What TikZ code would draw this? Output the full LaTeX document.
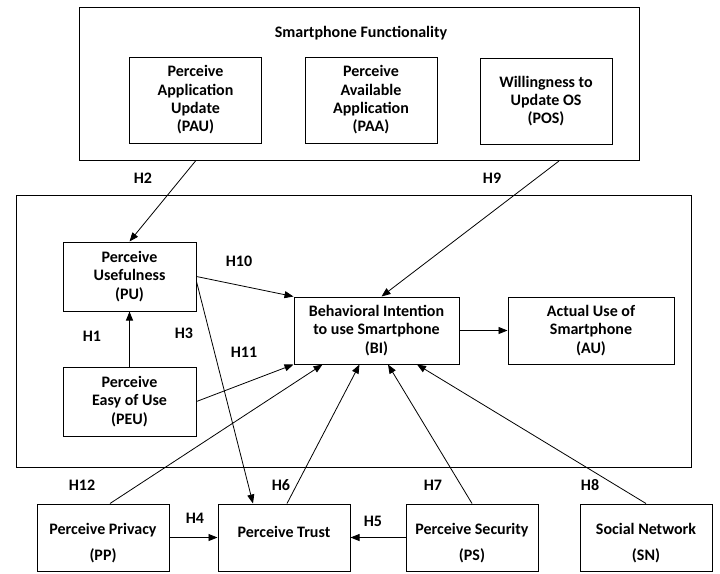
\documentclass[tikz,border=0pt]{standalone}
\usepackage{fontspec}
\setmainfont{Carlito}
\usetikzlibrary{positioning,calc,arrows.meta}
\tikzset{font=\fontsize{16}{18.3}\selectfont\bfseries}

\begin{document}
\begin{tikzpicture}
	\begin{scope}[x=1pt, y=-1pt]
		\tikzstyle{every node}=[align=center, inner sep=1pt]
		\tikzstyle{box}=[draw, line width=1pt, minimum width=132pt]
		\tikzstyle{link}=[line width=0.8pt, -{Triangle[length=9pt, width=7pt]}]
		\useasboundingbox (0, 0) rectangle (720, 573);

		\node [box, minimum width=560pt, minimum height=153pt] (sf) at (359, 84) {};
		\node (sftitle) at (361, 33) {Smartphone Functionality};
		\node [box, minimum height=86pt] (pau) at (195.5, 100) {Perceive\\Application\\Update\\(PAU)};
		\node [box, minimum height=86pt] (paa) at (371, 100) {Perceive\\Available\\Application\\(PAA)};
		\node [box, minimum height=86pt] (pos) at (546, 101) {Willingness to\\Update OS\\(POS)};

		\node [box, minimum width=675pt, minimum height=272pt] (core) at (353.5, 331) {};
		\node [box, minimum width=133pt, minimum height=69pt] (pu) at (129.5, 276.5) {Perceive\\Usefulness\\(PU)};
		\node [box, minimum width=133pt, minimum height=69pt] (peu) at (129.5, 401.5) {Perceive\\Easy of Use\\(PEU)};
		\node [box, minimum width=165pt, minimum height=67pt] (bi) at (376.5, 330.5) {Behavioral Intention\\to use Smartphone\\(BI)};
		\node [box, minimum width=166pt, minimum height=67pt] (au) at (591, 330.5) {Actual Use of\\Smartphone\\(AU)};

		\node [box, minimum height=67pt] (pp) at (103, 537.5) {\rule{0pt}{23pt}Perceive Privacy\\[7.7pt](PP)};
		\node [box, minimum height=67pt] (pt) at (284, 537.5) {\rule[-11pt]{0pt}{1pt}Perceive Trust};
		\node [box, minimum height=67pt] (ps) at (472, 537.5) {\rule{0pt}{23pt}Perceive Security\\[7.7pt](PS)};
		\node [box, minimum height=67pt] (sn) at (646, 537.5) {\rule{0pt}{23pt}Social Network\\[7.7pt](SN)};

		\node (h1) at (92, 336) {H1};
		\node (h2) at (143, 178) {H2};
		\node (h3) at (184, 333) {H3};
		\node (h4) at (195, 518) {H4};
		\node (h5) at (373, 521) {H5};
		\node (h6) at (281, 485) {H6};
		\node (h7) at (433, 485) {H7};
		\node (h8) at (590, 485) {H8};
		\node (h9) at (492, 178) {H9};
		\node (h10) at (239, 261) {H10};
		\node (h11) at (244, 352) {H11};
		\node (h12) at (82, 485) {H12};

		\draw [link] (pau.south |- sf.south) to (pu.north);
		\draw [link] ([xshift=200pt]sf.south) to ([xshift=5pt]bi.north);
		\draw [link] (peu.north) to (pu.south);
		\draw [link] (pu.east) to (bi.north west);
		\draw [link] ([yshift=-5pt]pu.east) to ([xshift=-31pt]pt.north);
		\draw [link] (peu.east) to (bi.south west);
		\draw [link] ([xshift=7pt]pp.north) to ([xshift=29pt]bi.south west);
		\draw [link] ([xshift=3pt]pt.north) to ([xshift=66pt]bi.south west);
		\draw [link] (ps.north) to ([xshift=11.5pt]bi.south);
		\draw [link] (sn.north) to ([xshift=40.5pt]bi.south);
		\draw [link] (bi.east) to (au.west);
		\draw [link] (pp.east) to (pt.west);
		\draw [link] (ps.west) to (pt.east);
	\end{scope}
\end{tikzpicture}
\end{document}
